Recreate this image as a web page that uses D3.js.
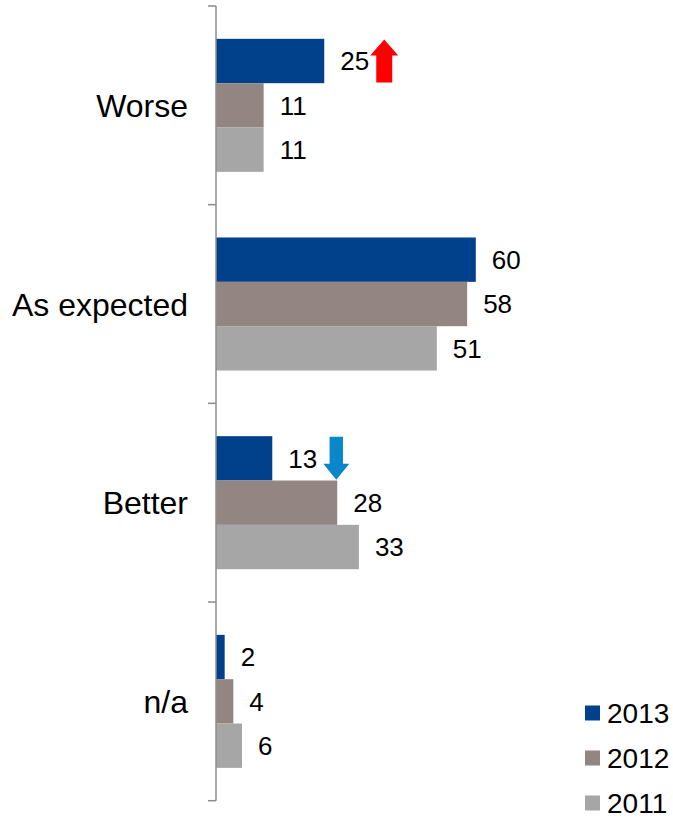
<!DOCTYPE html>
<html>
<head>
<meta charset="utf-8">
<script src="https://cdn.jsdelivr.net/npm/d3@7/dist/d3.min.js"></script>
<style>
  html, body { margin: 0; padding: 0; background: #fff; }
  svg { display: block; }
  text { font-family: "Liberation Sans", Arial, sans-serif; fill: #000; }
</style>
</head>
<body>
<svg id="chart" width="673" height="818"></svg>
<script>
// Survey answers by year
const categories = ["Worse", "As expected", "Better", "n/a"];
const years = ["2013", "2012", "2011"];
const values2013 = [25, 60, 13, 2];
const values2012 = [11, 58, 28, 4];
const values2011 = [11, 51, 33, 6];
// Change markers next to the 2013 bars: +1 = up, -1 = down
const changeMarks = [1, 0, -1, 0];

const colors = { "2013": "#01408A", "2012": "#938682", "2011": "#A6A6A6" };
const series = { "2013": values2013, "2012": values2012, "2011": values2011 };

const svg = d3.select("#chart");

const axisX = 216;
const plotTop = 6, plotBottom = 800.7;

const x = d3.scaleLinear().domain([0, 100]).range([axisX, axisX + 433]);

const y0 = d3.scaleBand().domain(categories).range([plotTop, plotBottom]).padding(0);
const y1 = d3.scaleBand().domain(years).range([0, y0.bandwidth()])
  .paddingInner(0).paddingOuter(0.74);

// Bars
const groups = svg.append("g").selectAll("g")
  .data(categories)
  .join("g")
  .attr("transform", d => `translate(0,${y0(d)})`);

groups.each(function(cat, ci) {
  const g = d3.select(this);
  years.forEach(yr => {
    const v = series[yr][ci];
    g.append("rect")
      .attr("x", x(0))
      .attr("y", y1(yr))
      .attr("width", x(v) - x(0))
      .attr("height", y1.bandwidth())
      .attr("fill", colors[yr]);
    g.append("text")
      .attr("x", x(v) + 16)
      .attr("y", y1(yr) + y1.bandwidth() / 2)
      .attr("dy", "0.36em")
      .attr("font-size", 26)
      .text(v);
  });

  // Up / down arrow after the 2013 label
  const mark = changeMarks[ci];
  if (mark !== 0) {
    const v = values2013[ci];
    const cx = x(v) + (mark > 0 ? 60 : 64);
    const cy = y1("2013") + y1.bandwidth() / 2;
    const halfLen = 21.5, headH = 16, headW = mark > 0 ? 14 : 13, shaftW = mark > 0 ? 8 : 6.7;
    const s = mark > 0 ? -1 : 1; // direction of the tip
    const tipY = cy + s * halfLen;
    const baseY = cy - s * halfLen;
    const neckY = tipY - s * headH;
    const pts = [
      [cx, tipY],
      [cx + headW, neckY],
      [cx + shaftW, neckY],
      [cx + shaftW, baseY],
      [cx - shaftW, baseY],
      [cx - shaftW, neckY],
      [cx - headW, neckY]
    ];
    g.append("path")
      .attr("d", d3.line()(pts) + "Z")
      .attr("fill", mark > 0 ? "#FF0000" : "#0A87CA");
  }
});

// Category axis with boundary ticks
const axisG = svg.append("g");
axisG.append("line")
  .attr("x1", axisX).attr("x2", axisX)
  .attr("y1", plotTop).attr("y2", plotBottom)
  .attr("stroke", "#8C8C8C").attr("stroke-width", 1.5);
const bounds = categories.map(c => y0(c)).concat([plotBottom]);
axisG.selectAll("line.tick")
  .data(bounds)
  .join("line")
  .attr("class", "tick")
  .attr("x1", axisX - 8).attr("x2", axisX)
  .attr("y1", d => d).attr("y2", d => d)
  .attr("stroke", "#8C8C8C").attr("stroke-width", 1.5);

axisG.selectAll("text.cat")
  .data(categories)
  .join("text")
  .attr("class", "cat")
  .attr("x", 188)
  .attr("y", d => y0(d) + y0.bandwidth() / 2)
  .attr("dy", "0.36em")
  .attr("text-anchor", "end")
  .attr("font-size", 32)
  .text(d => d);

// Legend
const legend = svg.append("g").attr("transform", "translate(585,713)");
years.forEach((yr, i) => {
  const row = legend.append("g").attr("transform", `translate(0,${i * 45})`);
  row.append("rect")
    .attr("x", 0).attr("y", -7.5)
    .attr("width", 15).attr("height", 15)
    .attr("fill", colors[yr]);
  row.append("text")
    .attr("x", 22).attr("y", 0)
    .attr("dy", "0.36em")
    .attr("font-size", 28)
    .text(yr);
});
</script>
</body>
</html>
